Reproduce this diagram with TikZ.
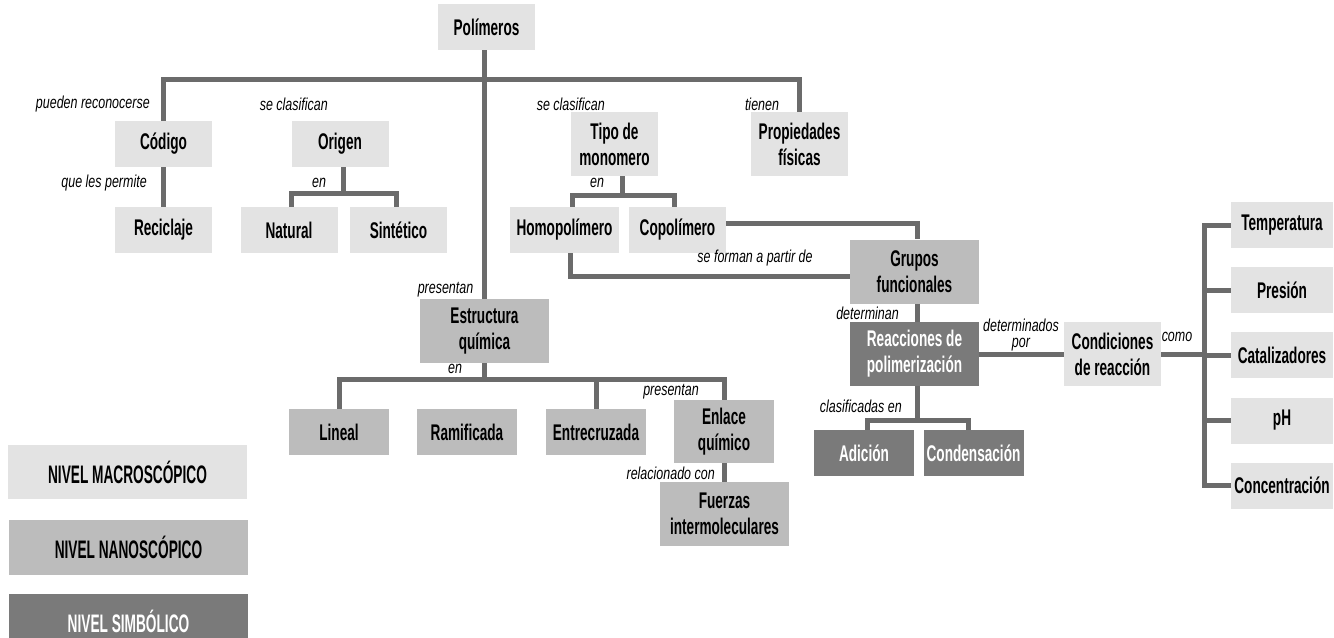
\documentclass[tikz,border=0pt]{standalone}
\usepackage{fontspec}
\newfontfamily\boxfont{Liberation Sans}[FakeStretch=0.6]
\newfontfamily\legendfont{Liberation Sans}[FakeStretch=0.54]
\newfontfamily\lblfont{Liberation Sans}[FakeStretch=0.72]
\usetikzlibrary{calc}
\definecolor{macro}{HTML}{E3E3E3}
\definecolor{nano}{HTML}{BCBCBC}
\definecolor{simb}{HTML}{7A7A7A}
\definecolor{linkgray}{HTML}{6B6B6B}
\tikzset{
  box/.style={inner sep=0pt, align=center, text=black,
    font=\boxfont\bfseries\fontsize{17}{19.5}\selectfont},
  macrobox/.style={box, fill=macro},
  nanobox/.style={box, fill=nano},
  simbbox/.style={box, fill=simb, text=white},
  legendbox/.style={inner sep=0pt, align=center,
    font=\legendfont\bfseries\fontsize{19}{21}\selectfont,
    minimum width=179.25pt, minimum height=40.5pt},
  link/.style={draw=linkgray, line width=3.75pt},
  lbl/.style={inner sep=0pt, align=center,
    font=\lblfont\itshape\fontsize{13}{12}\selectfont},
  small/.style={minimum width=72.75pt, minimum height=34.5pt},
  tall/.style={minimum width=72.75pt, minimum height=48pt},
  wide/.style={minimum width=96.75pt, minimum height=48pt},
  mid/.style={minimum width=75pt, minimum height=34.5pt},
}
\begin{document}
\begin{tikzpicture}[x=0.75pt, y=-0.75pt]
\useasboundingbox (0,0) rectangle (1334,638);
\clip (0,0) rectangle (1334,638);

% ---- concept boxes ----
\node[macrobox, small] (poly)   at (486.5,27)   {Polímeros};
\node[macrobox, small] (codigo) at (163.5,144)  {Código};
\node[macrobox, small] (recic)  at (163.5,230)  {Reciclaje};
\node[macrobox, small] (origen) at (340,144)    {Origen};
\node[macrobox, small] (natural) at (289,230)   {Natural};
\node[macrobox, small] (sint)   at (398.5,230)  {Sintético};
\node[macrobox, tall, minimum width=65.25pt] (tipo) at (614.5,144) {Tipo de\\monomero};
\node[macrobox, tall] (prop)    at (799.5,144)  {Propiedades\\físicas};
\node[macrobox, small, minimum width=81.75pt] (homo) at (564.5,230) {Homopolímero};
\node[macrobox, small] (copo)   at (677.5,230)  {Copolímero};
\node[nanobox, wide] (grupos)   at (914.5,271.5) {Grupos\\funcionales};
\node[simbbox, wide] (reac)     at (914.5,354)  {Reacciones de\\polimerización};
\node[macrobox, tall] (cond)    at (1112.5,354) {Condiciones\\de reacción};
\node[simbbox, mid] (adic)      at (864,453)    {Adición};
\node[simbbox, mid] (conden)    at (973.5,453)  {Condensación};
\node[nanobox, wide] (est)      at (484.5,331)  {Estructura\\química};
\node[nanobox, mid] (lineal)    at (339,432)    {Lineal};
\node[nanobox, mid] (ramif)     at (467,432)    {Ramificada};
\node[nanobox, mid] (entre)     at (596,432)    {Entrecruzada};
\node[nanobox, mid, minimum height=47.25pt] (enlace) at (724,431.5) {Enlace\\químico};
\node[nanobox, wide] (fuer)     at (724.5,514)  {Fuerzas\\intermoleculares};
\node[macrobox, mid, minimum width=76.5pt] (temp) at (1282,225)   {Temperatura};
\node[macrobox, mid, minimum width=76.5pt] (pres) at (1282,290)   {Presión};
\node[macrobox, mid, minimum width=76.5pt] (cat)  at (1282,355)   {Catalizadores};
\node[macrobox, mid, minimum width=76.5pt] (ph)   at (1282,420.5) {pH};
\node[macrobox, mid, minimum width=76.5pt] (conc) at (1282,485.5) {Concentración};

% ---- legend ----
\node[legendbox, fill=macro] (lmacro) at (127.5,472) {NIVEL MACROSCÓPICO};
\node[legendbox, fill=nano, minimum height=41.25pt] (lnano) at (128.5,547.5) {NIVEL NANOSCÓPICO};
\node[legendbox, fill=simb, text=white] (lsimb) at (128.5,621) {NIVEL SIMBÓLICO};

% ---- junction points ----
\coordinate (bar) at (484,80);
\coordinate (obr) at (343,193);
\coordinate (tbr) at (622,195);
\coordinate (ebr) at (484,379);
\coordinate (rbr) at (917,420);
\coordinate (vx)  at (1204,354);

% ---- connectors ----
\draw[link] (poly.south -| est.north) -- (est.north);
\draw[link] (codigo.north) |- (bar) -| (prop.north);
\draw[link] ($(origen.north)+(3,0)$) -- ($(origen.north)+(3,0)$ |- bar);
\draw[link] ($(tipo.north)+(7.5,0)$) -- ($(tipo.north)+(7.5,0)$ |- bar);
\draw[link] (codigo.south) -- (recic.north);

\draw[link] ($(origen.south)+(3,0)$) -- (obr);
\draw[link] ($(natural.north)+(2,0)$) |- (obr) -| ($(sint.north)+(-2.5,0)$);

\draw[link] ($(tipo.south)+(7.5,0)$) -- (tbr);
\draw[link] ($(homo.north)+(7.5,0)$) |- (tbr) -| ($(copo.north)+(-3.5,0)$);

\draw[link] ($(copo.east)+(0,-7)$) -| ($(grupos.north)+(2.5,0)$);
\draw[link] ($(homo.south)+(5.5,0)$) |- ($(grupos.west)+(0,4.5)$);
\draw[link] ($(grupos.south)+(2.5,0)$) -- ($(reac.north)+(2.5,0)$);
\draw[link] (reac.east) -- (cond.west);
\draw[link] ($(reac.south)+(2.5,0)$) -- (rbr);
\draw[link] ($(adic.north)+(3,0)$) |- (rbr) -| ($(conden.north)+(-5.5,0)$);

\draw[link] (cond.east) -- (vx);
\draw[link] (temp.west) -| (vx) |- (conc.west);
\draw[link] (pres.west) -- (pres.west -| vx);
\draw[link] (cat.west) -- (cat.west -| vx);
\draw[link] (ph.west) -- (ph.west -| vx);

\draw[link] (est.south) -- (est.south |- ebr);
\draw[link] (lineal.north) |- (ebr) -| (enlace.north);
\draw[link] ($(ramif.north)+(17,0)$) -- ($(ramif.north)+(17,0)$ |- ebr);
\draw[link] (entre.north) -- (entre.north |- ebr);
\draw[link] (enlace.south) -- (enlace.south |- fuer.north);

% ---- link phrases ----
\node[lbl, anchor=east] (t1) at (150,104) {pueden reconocerse};
\node[lbl, anchor=east] (t2) at (328,104) {se clasifican};
\node[lbl, anchor=east] (t3) at (147,183) {que les permite};
\node[lbl] (t4) at (319,183) {en};
\node[lbl, anchor=east] (t5) at (605,104) {se clasifican};
\node[lbl] (t6) at (762,104) {tienen};
\node[lbl] (t7) at (597,183) {en};
\node[lbl] (t8) at (755,258) {se forman a partir de};
\node[lbl] (t9) at (445.5,290) {presentan};
\node[lbl] (t10) at (455,369) {en};
\node[lbl] (t11) at (671,392) {presentan};
\node[lbl, anchor=east] (t12) at (715,473) {relacionado con};
\node[lbl, anchor=east] (t13) at (899,313) {determinan};
\node[lbl, anchor=east] (t14) at (902,406) {clasificadas en};
\node[lbl] (t15) at (1021,335) {determinados\\por};
\node[lbl] (t16) at (1177,337) {como};
\end{tikzpicture}
\end{document}
